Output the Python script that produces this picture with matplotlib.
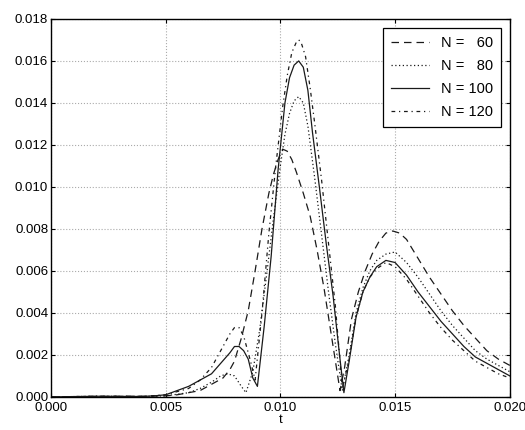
import numpy as np
import matplotlib
matplotlib.use('Agg')
import matplotlib.pyplot as plt

plt.rcParams['font.family'] = ['Liberation Sans', 'DejaVu Sans']

# N = 60 (dashed)
t60 = [0, 0.002, 0.004, 0.005, 0.0055, 0.006, 0.0065, 0.007, 0.0075, 0.0078, 0.008, 0.0083, 0.0086,
       0.0089, 0.0092, 0.0095, 0.0097, 0.0099, 0.0101, 0.0103, 0.0105, 0.0107, 0.0110, 0.0113, 0.0116, 0.0119,
       0.0122, 0.0124, 0.0126, 0.0128, 0.0131, 0.0134, 0.0137, 0.0140, 0.0143, 0.0146, 0.0149, 0.0152,
       0.0155, 0.0160, 0.0165, 0.0170, 0.0175, 0.0180, 0.0185, 0.0190, 0.0195, 0.0200]
y60 = [0, 0.00002, 0.00003, 0.00005, 0.0001, 0.0002, 0.0003, 0.0006, 0.0009, 0.0013, 0.0017, 0.0028, 0.0041,
       0.0060, 0.0080, 0.0097, 0.0106, 0.0113, 0.0118, 0.0117, 0.0113, 0.0107, 0.0097, 0.0086, 0.0070, 0.0052,
       0.0031, 0.0017, 0.0003, 0.0014, 0.0037, 0.0050, 0.0060, 0.0068, 0.0074, 0.0078, 0.0079, 0.0078,
       0.0075, 0.0066, 0.0057, 0.0049, 0.0041, 0.0034, 0.0028, 0.0022, 0.0018, 0.0015]

# N = 80 (dotted)
t80 = [0, 0.002, 0.004, 0.005, 0.006, 0.0065, 0.007, 0.0074, 0.0077, 0.0080, 0.0083, 0.0085, 0.0088,
       0.0091, 0.0094, 0.0097, 0.0100, 0.0102, 0.0104, 0.0106, 0.0108, 0.0110, 0.0112, 0.0115, 0.0118, 0.0121,
       0.0124, 0.0127, 0.0130, 0.0133, 0.0136, 0.0139, 0.0142, 0.0146, 0.0150, 0.0155, 0.0160, 0.0165,
       0.0170, 0.0175, 0.0180, 0.0185, 0.0190, 0.0195, 0.0200]
y80 = [0, 0.00003, 0.00002, 0.00005, 0.0002, 0.0004, 0.0007, 0.0010, 0.0011, 0.0010, 0.0005, 0.0002, 0.0012,
       0.0032, 0.0058, 0.0085, 0.0110, 0.0125, 0.0135, 0.0141, 0.0143, 0.0140, 0.0129, 0.0104, 0.0077, 0.0050,
       0.0025, 0.0003, 0.0020, 0.0040, 0.0052, 0.0060, 0.0065, 0.0068, 0.0069, 0.0064, 0.0057, 0.0049,
       0.0041, 0.0034, 0.0028, 0.0022, 0.0018, 0.0015, 0.0012]

# N = 100 (solid)
t100 = [0, 0.002, 0.004, 0.0045, 0.005, 0.0055, 0.006, 0.0065, 0.007, 0.0074, 0.0078, 0.0080, 0.0082, 0.0084,
        0.0086, 0.0088, 0.0090, 0.0093, 0.0096, 0.0099, 0.0102, 0.0104, 0.0106, 0.0108, 0.0110, 0.0112, 0.0114,
        0.0117, 0.0120, 0.0123, 0.0126, 0.01277, 0.0130, 0.0133, 0.0136, 0.0139, 0.0142, 0.0146, 0.0150,
        0.0155, 0.0160, 0.0165, 0.0170, 0.0175, 0.0180, 0.0185, 0.0190, 0.0195, 0.0200]
y100 = [0, 0.00003, 0.00002, 0.00005, 0.0001, 0.0003, 0.0005, 0.0008, 0.0011, 0.0016, 0.0021, 0.0024, 0.0024,
        0.0022, 0.0018, 0.0009, 0.0005, 0.0034, 0.0067, 0.0108, 0.0140, 0.0152, 0.0158, 0.0160, 0.0157, 0.0146,
        0.0126, 0.0100, 0.0073, 0.0048, 0.0018, 0.0002, 0.0017, 0.0038, 0.0050, 0.0057, 0.0062, 0.0065, 0.0064,
        0.0058, 0.0050, 0.0043, 0.0036, 0.0030, 0.0024, 0.0019, 0.0016, 0.0013, 0.0010]

# N = 120 (dash-dot)
t120 = [0, 0.002, 0.004, 0.005, 0.006, 0.0065, 0.007, 0.0074, 0.0078, 0.0080, 0.0082, 0.0084, 0.0087, 0.0089,
        0.0092, 0.0095, 0.0098, 0.0101, 0.0103, 0.0105, 0.0107, 0.0108, 0.0109, 0.0111, 0.0113, 0.0115, 0.0118,
        0.0121, 0.0124, 0.0127, 0.0130, 0.0133, 0.0136, 0.0139, 0.0142, 0.0146, 0.0150, 0.0155, 0.0160, 0.0165,
        0.0170, 0.0175, 0.0180, 0.0185, 0.0190, 0.0195, 0.0200]
y120 = [0, 0.00003, 0.00002, 0.0001, 0.0004, 0.0008, 0.0014, 0.0022, 0.0030, 0.0033, 0.0033, 0.0029, 0.0017,
        0.0008, 0.0040, 0.0078, 0.0110, 0.0138, 0.0153, 0.0164, 0.0169, 0.0170, 0.0169, 0.0162, 0.0147, 0.0130,
        0.0103, 0.0073, 0.0043, 0.0004, 0.0018, 0.0038, 0.0050, 0.0057, 0.0061, 0.0064, 0.0062, 0.0056, 0.0048,
        0.0040, 0.0033, 0.0027, 0.0022, 0.0017, 0.0014, 0.0011, 0.0009]

labels = ['N =   60', 'N =   80', 'N = 100', 'N = 120']
xticks = [0.000, 0.005, 0.010, 0.015, 0.020]
yticks = [0.000, 0.002, 0.004, 0.006, 0.008, 0.010, 0.012, 0.014, 0.016, 0.018]

fig = plt.figure(figsize=(5.25, 4.3), dpi=100)
ax = fig.add_axes([0.097, 0.077, 0.874, 0.879])

lc = '#1a1a1a'
ax.plot(t60, y60, color=lc, lw=0.9, dashes=(6, 4), label=labels[0])
ax.plot(t80, y80, color=lc, lw=0.9, dashes=(1, 2), label=labels[1])
ax.plot(t100, y100, color=lc, lw=0.9, ls='-', label=labels[2])
ax.plot(t120, y120, color=lc, lw=0.9, dashes=(3, 3, 1, 3), label=labels[3])

ax.set_xlim(0, 0.020); ax.set_ylim(0, 0.018)
ax.set_xticks(xticks); ax.set_xticklabels([f'{v:.3f}' for v in xticks])
ax.set_yticks(yticks); ax.set_yticklabels([f'{v:.3f}' for v in yticks])
ax.tick_params(direction='in', length=3, labelsize=9.5, top=True, right=True, pad=2)
ax.tick_params(axis='x', pad=4)
ax.grid(True, color='#aaaaaa', ls=':', lw=0.8)
for s in ax.spines.values():
    s.set_linewidth(1.0); s.set_color('black')
ax.set_xlabel('t', fontsize=9.5, labelpad=0)

leg = ax.legend(loc='upper right', fontsize=10.5, handlelength=2.6, fancybox=False,
                edgecolor='black', framealpha=1, borderaxespad=0.6, labelspacing=0.62,
                borderpad=0.55)
leg.get_frame().set_linewidth(0.9)

plt.savefig('out.png', dpi=100)
